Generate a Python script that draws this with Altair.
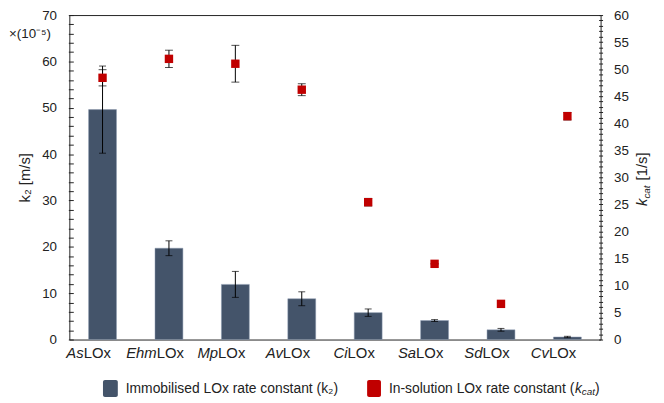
import altair as alt
import pandas as pd

# ---- data ----
prefixes = ["As", "Ehm", "Mp", "Av", "Ci", "Sa", "Sd", "Cv"]
suffix = "LOx"
k2 = [49.6, 19.7, 11.9, 8.8, 5.8, 4.1, 2.1, 0.55]
k2_err = [9.4, 1.6, 2.8, 1.5, 0.8, 0.2, 0.3, 0.15]
kcat = [48.4, 51.9, 51.0, 46.2, 25.4, 14.0, 6.6, 41.3]
kcat_err = [1.5, 1.6, 3.4, 1.1, 0.7, 0.0, 0.0, 0.7]
legend_labels = ["Immobilised LOx rate constant (k\u2082)", "In-solution LOx rate constant ("]

BAR = "#44546A"
RED = "#C00000"
FONT = "Liberation Sans"
XFS = 15
TXT = "#222"

# Arial/Liberation Sans advance widths (per 1000 em)
W = {"A": 667, "s": 500, "E": 667, "h": 556, "m": 833, "M": 833, "p": 556, "v": 500,
     "C": 722, "i": 222, "S": 667, "a": 556, "d": 556, "L": 556, "O": 778, "x": 500,
     "k": 500, "c": 500, "t": 278, ")": 333}


def tw(s, fs):
    return sum(W.get(ch, 556) for ch in s) * fs / 1000.0


df = pd.DataFrame({
    "cat": prefixes,
    "suffix": [suffix] * len(prefixes),
    "k2": k2,
    "k2_lo": [v - e for v, e in zip(k2, k2_err)],
    "k2_hi": [v + e for v, e in zip(k2, k2_err)],
    "kcat": kcat,
    "kc_lo": [v - e for v, e in zip(kcat, kcat_err)],
    "kc_hi": [v + e for v, e in zip(kcat, kcat_err)],
    "off": [(tw(p, XFS) - tw(suffix, XFS)) / 2.0 for p in prefixes],
})

xscale = alt.Scale(domain=prefixes, paddingInner=0.58, paddingOuter=0.29)
X = alt.X("cat:N", scale=xscale, sort=prefixes,
          axis=alt.Axis(labels=False, ticks=False, domain=False, title=None, grid=False))
Xn = alt.X("cat:N", scale=xscale, sort=prefixes, axis=None)

yleft = alt.Scale(domain=[0, 70], nice=False)
yright = alt.Scale(domain=[0, 60], nice=False)

left_axis = alt.Axis(values=list(range(0, 71, 2)), tickCount=200, format="d",
                     labelExpr="datum.value % 10 === 0 ? format(datum.value, 'd') : ''",
                     labelOverlap=False, labelFlush=False, labelBound=False,
                     tickSize=5, offset=-4, domain=False, grid=False,
                     labelPadding=12, labelFontSize=13.5, labelFont=FONT, labelColor=TXT,
                     tickColor=TXT, title="k\u2082 [m/s]", titleFont=FONT, titleFontSize=15,
                     titleFontWeight="normal", titleColor=TXT, titlePadding=9)
right_axis = alt.Axis(orient="right", values=list(range(0, 61)), tickCount=200, format="d",
                      labelExpr="datum.value % 5 === 0 ? format(datum.value, 'd') : ''",
                      labelOverlap=False, labelFlush=False, labelBound=False,
                      tickSize=4, offset=-2, domain=False, grid=False,
                      labelPadding=11, labelFontSize=13.5, labelFont=FONT, labelColor=TXT,
                      tickColor=TXT, title=None)

base = alt.Chart(df)

bars = base.mark_bar(color=BAR, stroke="#8A9AB0", strokeWidth=0.5).encode(
    x=X, y=alt.Y("k2:Q", scale=yleft, axis=left_axis))
k2_rule = base.mark_rule(color="#000", strokeWidth=1).encode(
    x=Xn, y=alt.Y("k2_lo:Q", scale=yleft), y2="k2_hi:Q")
k2_cap_lo = base.mark_tick(color="#000", size=7, thickness=1).encode(
    x=Xn, y=alt.Y("k2_lo:Q", scale=yleft))
k2_cap_hi = base.mark_tick(color="#000", size=7, thickness=1).encode(
    x=Xn, y=alt.Y("k2_hi:Q", scale=yleft))
left_layer = alt.layer(bars, k2_rule, k2_cap_lo, k2_cap_hi)

kc_rule = base.mark_rule(color="#000", strokeWidth=1).encode(
    x=Xn, y=alt.Y("kc_lo:Q", scale=yright, axis=right_axis), y2="kc_hi:Q")
kc_cap_lo = base.mark_tick(color="#000", size=8, thickness=1).encode(
    x=Xn, y=alt.Y("kc_lo:Q", scale=yright))
kc_cap_hi = base.mark_tick(color="#000", size=8, thickness=1).encode(
    x=Xn, y=alt.Y("kc_hi:Q", scale=yright))
squares = base.mark_square(color=RED, opacity=1, size=72).encode(
    x=Xn, y=alt.Y("kcat:Q", scale=yright))
right_layer = alt.layer(kc_rule, kc_cap_lo, kc_cap_hi, squares)

# plot origin is at page (70, 13)
LY = 347  # baseline of category labels

lab_pre = base.mark_text(font=FONT, fontSize=XFS, fontStyle="italic", align="right",
                         baseline="alphabetic", color=TXT).encode(
    x=Xn, xOffset=alt.XOffset("off:Q", scale=None), y=alt.value(LY), text="cat:N")
lab_suf = base.mark_text(font=FONT, fontSize=XFS, align="left",
                         baseline="alphabetic", color=TXT).encode(
    x=Xn, xOffset=alt.XOffset("off:Q", scale=None), y=alt.value(LY), text="suffix:N")

one = alt.Chart(pd.DataFrame({"t": ["×(10⁻⁵)"]}))
mult = one.mark_text(font=FONT, fontSize=13.5, align="left", baseline="middle", color=TXT).encode(
    x=alt.value(-61), y=alt.value(19), text="t:N")

# right axis title: italic k, subscript cat, then [1/s]  (rotated)
rt = alt.Chart(pd.DataFrame({"a": ["k"], "b": ["cat"], "c": ["[1/s]"]}))
ry0 = 193
rt_k = rt.mark_text(font=FONT, fontSize=15, fontStyle="italic", angle=270, align="left",
                    baseline="alphabetic", color=TXT).encode(
    x=alt.value(584), y=alt.value(ry0), text="a:N")
rt_cat = rt.mark_text(font=FONT, fontSize=10, fontStyle="italic", angle=270, align="left",
                      baseline="alphabetic", color=TXT).encode(
    x=alt.value(587), y=alt.value(ry0 - tw("k", 15)), text="b:N")
rt_rest = rt.mark_text(font=FONT, fontSize=15, angle=270, align="left",
                       baseline="alphabetic", color=TXT).encode(
    x=alt.value(584), y=alt.value(ry0 - tw("k", 15) - tw("cat", 10) - 5), text="c:N")

# legend
LGY = 378
lg = alt.Chart(pd.DataFrame({"l1": [legend_labels[0]], "l2": [legend_labels[1]],
                             "k": ["k"], "cat": ["cat"], "p": [")"]}))
lg_sq1 = lg.mark_rect(color=BAR, cornerRadius=2).encode(
    x=alt.value(34), x2=alt.value(49), y=alt.value(LGY - 9), y2=alt.value(LGY + 8))
lg_t1 = lg.mark_text(font=FONT, fontSize=14, align="left", baseline="middle", color=TXT).encode(
    x=alt.value(57), y=alt.value(LGY), text="l1:N")
lg_sq2 = lg.mark_rect(color=RED, cornerRadius=2).encode(
    x=alt.value(301), x2=alt.value(315), y=alt.value(LGY - 9), y2=alt.value(LGY + 8))
end2 = 536
lg_p = lg.mark_text(font=FONT, fontSize=14, align="right", baseline="middle", color=TXT).encode(
    x=alt.value(end2), y=alt.value(LGY), text="p:N")
lg_cat = lg.mark_text(font=FONT, fontSize=10, fontStyle="italic", align="right", baseline="middle",
                      color=TXT).encode(
    x=alt.value(end2 - tw(")", 14)), y=alt.value(LGY + 3), text="cat:N")
lg_k = lg.mark_text(font=FONT, fontSize=14, fontStyle="italic", align="right", baseline="middle",
                    color=TXT).encode(
    x=alt.value(end2 - tw(")", 14) - tw("cat", 10)), y=alt.value(LGY), text="k:N")
lg_t2 = lg.mark_text(font=FONT, fontSize=14, align="right", baseline="middle", color=TXT).encode(
    x=alt.value(end2 - tw(")", 14) - tw("cat", 10) - tw("k", 14) - 0.5), y=alt.value(LGY), text="l2:N")

chart = alt.layer(
    left_layer, right_layer, lab_pre, lab_suf, mult, rt_k, rt_cat, rt_rest,
    lg_sq1, lg_t1, lg_sq2, lg_p, lg_cat, lg_k, lg_t2
).resolve_scale(y="independent").properties(
    width=537, height=328,
    padding={"left": 62, "top": 5, "right": 56, "bottom": 62},
    autosize=alt.AutoSizeParams(type="none"),
    background="white",
).configure_view(stroke=TXT, strokeWidth=1)

chart.save("out.html", embed_options={"renderer": "svg", "actions": False})
